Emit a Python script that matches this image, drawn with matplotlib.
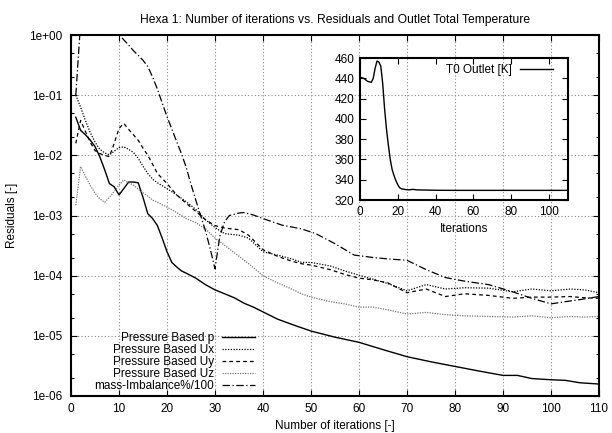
import matplotlib
matplotlib.use("Agg")
import matplotlib.pyplot as plt
from matplotlib.ticker import FixedLocator, FuncFormatter, NullLocator, LogLocator

plt.rcParams['font.family'] = ['Liberation Sans', 'DejaVu Sans']
plt.rcParams['font.size'] = 8.5

# ---------------- data ----------------
iters_p = [1, 2, 3, 4, 5, 6, 7, 8, 9, 10, 11, 12, 13, 14, 15, 16, 17, 18, 19, 20,
           21, 22, 23, 24, 26, 28, 30, 32, 34, 36, 38, 40, 43, 46, 50, 55, 60, 65,
           70, 75, 80, 85, 90, 93, 96, 100, 103, 106, 110]
res_p = [4.3e-2, 2.6e-2, 2.2e-2, 1.8e-2, 1.4e-2, 9.5e-3, 5.8e-3, 3.4e-3, 3.0e-3, 2.2e-3,
         2.8e-3, 3.6e-3, 3.6e-3, 3.5e-3, 2.0e-3, 1.07e-3, 8.9e-4, 6.8e-4, 4.2e-4, 2.5e-4,
         1.66e-4, 1.4e-4, 1.2e-4, 1.1e-4, 9.1e-5, 7.1e-5, 5.8e-5, 5.0e-5, 4.3e-5, 3.5e-5,
         3.0e-5, 2.5e-5, 1.9e-5, 1.55e-5, 1.2e-5, 9.5e-6, 7.8e-6, 5.9e-6, 4.5e-6, 3.7e-6,
         3.1e-6, 2.6e-6, 2.2e-6, 2.2e-6, 1.95e-6, 1.86e-6, 1.82e-6, 1.66e-6, 1.58e-6]

iters_u = [1, 2, 3, 4, 5, 6, 7, 8, 9, 10, 11, 12, 13, 14, 15, 16, 17, 18, 20, 22, 24,
           26, 28, 30, 32, 35, 37, 40, 43, 46, 48, 50, 54, 57, 60, 63, 66, 70, 74, 78,
           82, 87, 92, 96, 100, 104, 107, 110]
res_ux = [1.0e-1, 6.3e-2, 3.8e-2, 2.4e-2, 1.66e-2, 1.26e-2, 1.1e-2, 1.02e-2, 1.17e-2, 1.35e-2,
          1.38e-2, 1.26e-2, 1.12e-2, 8.9e-3, 6.6e-3, 5.0e-3, 4.0e-3, 3.5e-3, 2.8e-3, 2.2e-3,
          1.7e-3, 1.26e-3, 8.5e-4, 6.3e-4, 5.0e-4, 4.7e-4, 4.2e-4, 2.5e-4, 2.2e-4, 1.9e-4,
          1.66e-4, 1.66e-4, 1.45e-4, 1.2e-4, 1.02e-4, 8.7e-5, 7.4e-5, 5.6e-5, 7.1e-5, 6.0e-5,
          6.3e-5, 6.2e-5, 5.4e-5, 6.0e-5, 5.6e-5, 6.0e-5, 5.8e-5, 5.2e-5]
res_uy = [1.58e-2, 3.8e-2, 2.5e-2, 1.66e-2, 1.2e-2, 1.07e-2, 1.0e-2, 9.5e-3, 1.58e-2, 2.8e-2,
          3.4e-2, 2.7e-2, 2.2e-2, 1.78e-2, 1.32e-2, 1.0e-2, 7.1e-3, 5.0e-3, 3.4e-3, 2.2e-3,
          1.6e-3, 1.17e-3, 8.5e-4, 6.8e-4, 6.2e-4, 5.8e-4, 4.7e-4, 2.7e-4, 2.1e-4, 1.74e-4,
          1.58e-4, 1.5e-4, 1.26e-4, 1.05e-4, 9.1e-5, 8.5e-5, 7.6e-5, 5.2e-5, 6.0e-5, 4.5e-5,
          5.0e-5, 4.7e-5, 4.2e-5, 4.4e-5, 4.4e-5, 4.5e-5, 4.3e-5, 4.2e-5]
res_uz = [1.48e-3, 6.5e-3, 4.5e-3, 3.2e-3, 2.35e-3, 1.9e-3, 1.66e-3, 2.0e-3, 2.5e-3, 3.2e-3,
          3.9e-3, 3.5e-3, 3.2e-3, 2.75e-3, 2.4e-3, 2.1e-3, 1.8e-3, 1.66e-3, 1.38e-3, 1.12e-3,
          8.9e-4, 7.6e-4, 6.0e-4, 4.2e-4, 3.2e-4, 2.1e-4, 1.58e-4, 1.0e-4, 7.6e-5, 6.0e-5,
          5.0e-5, 4.4e-5, 3.7e-5, 3.4e-5, 3.0e-5, 3.0e-5, 2.7e-5, 2.3e-5, 2.45e-5, 2.25e-5,
          2.15e-5, 2.1e-5, 2.05e-5, 2.15e-5, 2.0e-5, 2.1e-5, 2.05e-5, 2.1e-5]

iters_m = [1, 2, 3, 4, 5, 6, 7, 8, 9, 10, 11, 12, 13, 14, 15, 16, 17, 18, 19, 20, 21,
           22, 23, 24, 25, 26, 27, 28, 29, 30, 31, 32, 33, 35, 36, 38, 40, 44, 48, 51,
           55, 59, 63, 66, 70, 74, 78, 82, 87, 92, 96, 100, 103, 106, 110]
res_mass = [1.0e-1, 1.6, 3.2, 3.2, 3.2, 3.2, 3.2, 3.2, 2.0, 1.02, 0.83, 0.68, 0.55, 0.46,
            0.38, 0.30, 0.20, 0.126, 0.074, 0.044, 0.0275, 0.017, 0.0107, 0.0063, 3.3e-3,
            1.8e-3, 1.0e-3, 5.6e-4, 2.8e-4, 1.3e-4, 4.5e-4, 7.9e-4, 1.0e-3, 1.1e-3, 1.12e-3,
            1.02e-3, 8.9e-4, 6.9e-4, 6.0e-4, 5.0e-4, 3.4e-4, 2.2e-4, 2.0e-4, 1.9e-4, 1.8e-4,
            1.26e-4, 9.3e-5, 8.1e-5, 7.1e-5, 5.4e-5, 4.2e-5, 3.4e-5, 3.7e-5, 4.0e-5, 4.5e-5]

iters_T = [0, 2, 4, 6, 7, 8, 9, 10, 11, 12, 13, 14, 15, 16, 17, 18, 19, 20, 21, 22, 24,
           26, 28, 30, 35, 40, 50, 60, 70, 80, 90, 100, 110]
temp_T0 = [441, 440, 437, 436, 440, 450, 457, 456, 452, 435, 410, 390, 374, 360, 350, 344,
           339, 335, 332, 331, 330.3, 330, 330.5, 330, 329.8, 329.6, 329.5, 329.5, 329.5,
           329.5, 329.5, 329.5, 329.5]

labels = ["Pressure Based p", "Pressure Based Ux", "Pressure Based Uy",
          "Pressure Based Uz", "mass-Imbalance%/100"]

# ---------------- figure ----------------
fig = plt.figure(figsize=(6.12, 4.33), dpi=100)
ax = fig.add_axes([71/612, 37/433, 528/612, 361/433])

ax.plot(iters_p, res_p, color='black', lw=1.0, ls='-', label=labels[0])
ax.plot(iters_u, res_ux, color='black', lw=0.9, ls=(0, (1, 1.2)), label=labels[1])
ax.plot(iters_u, res_uy, color='black', lw=0.9, ls=(0, (3, 2.5)), label=labels[2])
ax.plot(iters_u, res_uz, color='#777777', lw=0.9, ls=(0, (1, 1)), label=labels[3])
ax.plot(iters_m, res_mass, color='black', lw=0.9, ls=(0, (6, 2, 1, 2)), label=labels[4])

ax.set_yscale('log')
ax.set_xlim(0, 110)
ax.set_ylim(1e-6, 1.0)
ax.xaxis.set_major_locator(FixedLocator(range(0, 111, 10)))
ax.xaxis.set_minor_locator(NullLocator())
ax.yaxis.set_major_locator(LogLocator(base=10, numticks=20))
ax.yaxis.set_minor_locator(LogLocator(base=10, subs=(2.0, 5.0), numticks=20))
ax.yaxis.set_major_formatter(FuncFormatter(lambda v, _: f"{v:.0e}"))
ax.yaxis.set_minor_formatter(FuncFormatter(lambda v, _: ""))
ax.tick_params(which='both', direction='in', top=True, right=True, width=0.8)
ax.tick_params(which='major', length=4.5)
ax.tick_params(which='minor', length=2.5)
ax.tick_params(axis='y', pad=6)
ax.tick_params(axis='x', pad=5)
ax.grid(True, which='major', color='#888888', lw=0.8, ls=(0, (1, 2)))
for s in ax.spines.values():
    s.set_linewidth(1.5)

ax.set_title("Hexa 1: Number of iterations vs. Residuals and Outlet Total Temperature",
             pad=9, fontsize=8.7)
ax.set_xlabel("Number of iterations [-]", labelpad=4)
ax.set_ylabel("Residuals [-]", labelpad=8)

leg = ax.legend(loc='lower right', bbox_to_anchor=(0.349, 0.012), frameon=False,
                markerfirst=False, handlelength=2.8, handletextpad=0.7,
                labelspacing=0.0, borderpad=0.0, borderaxespad=0.0)
for col in leg._legend_handle_box.get_children():
    col.align = "right"

# ---------------- inset ----------------
ins = fig.add_axes([360/612, (433-200)/433, 208/612, 142/433])
ins.patch.set_alpha(0.0)
ins.plot(iters_T, temp_T0, color='black', lw=1.0, label="T0 Outlet [K]")
ins.set_xlim(0, 110)
ins.set_ylim(320, 460)
ins.xaxis.set_major_locator(FixedLocator(range(0, 101, 20)))
ins.yaxis.set_major_locator(FixedLocator(range(320, 461, 20)))
ins.tick_params(which='both', direction='in', top=True, right=True, length=4.5,
                width=0.8, pad=4)
for s in ins.spines.values():
    s.set_linewidth(1.5)
ins.set_xlabel("Iterations", labelpad=4)
ileg = ins.legend(loc='upper right', bbox_to_anchor=(0.93, 0.96), frameon=False,
                  markerfirst=False, handlelength=2.8, handletextpad=0.7,
                  borderpad=0.0, borderaxespad=0.0)

fig.savefig("out.png", dpi=100)
